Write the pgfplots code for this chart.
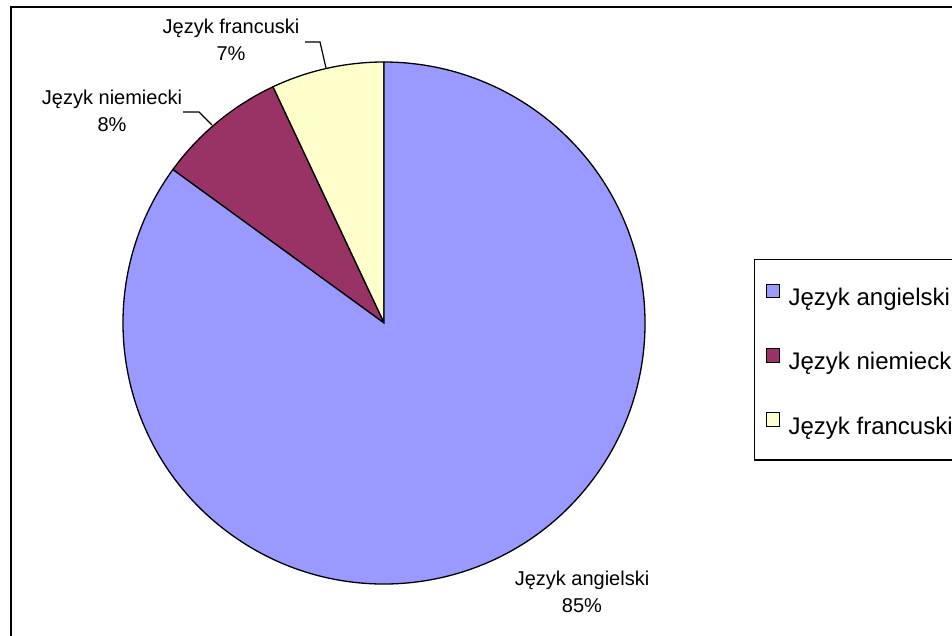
\documentclass[border=0pt]{standalone}
\usepackage{pgfplots}
\pgfplotsset{compat=1.18}
\usepackage{pgfplotstable}
\usepackage{fontspec}
\setmainfont{Liberation Sans}
\definecolor{cAng}{HTML}{9999FF}
\definecolor{cNie}{HTML}{993366}
\definecolor{cFra}{HTML}{FFFFCC}
\pgfplotstableread{
label value
angielski 85
niemiecki 8
francuski 7
}\piedata
\begin{document}
\begin{tikzpicture}
\useasboundingbox (0,0) rectangle (952pt,635pt);
\pgfplotstablegetelem{0}{value}\of\piedata \pgfmathsetmacro{\vA}{\pgfplotsretval}
\pgfplotstablegetelem{1}{value}\of\piedata \pgfmathsetmacro{\vN}{\pgfplotsretval}
\pgfplotstablegetelem{2}{value}\of\piedata \pgfmathsetmacro{\vF}{\pgfplotsretval}
\pgfmathsetmacro{\aF}{90+3.6*\vF}
\pgfmathsetmacro{\aN}{\aF+3.6*\vN}
\pgfmathsetmacro{\aA}{\aN+3.6*\vA}
\begin{axis}[
  at={(0,0)}, anchor=south west,
  scale only axis, width=952pt, height=635pt,
  xmin=0, xmax=952, ymin=0, ymax=635,
  axis lines=none, clip=false,
  legend style={at={(axis cs:754,376)}, anchor=north west,
    draw=black, line width=1.2pt, fill=white,
    inner xsep=11pt, inner ysep=24pt,
    row sep=41pt, column sep=9pt,
    font=\fontsize{24}{28}\selectfont,
    nodes={inner sep=0pt},
    cells={anchor=west}},
]
% outer chart border
\draw[line width=2pt] (axis cs:11,-20) -- (axis cs:11,628) -- (axis cs:980,628);
% pie slices
\filldraw[fill=cFra, draw=black, line width=1.3pt] (axis cs:384,312) -- ++(90:261pt) arc[start angle=90, end angle=\aF, radius=261pt] -- cycle;
\filldraw[fill=cNie, draw=black, line width=1.3pt] (axis cs:384,312) -- ++(\aF:261pt) arc[start angle=\aF, end angle=\aN, radius=261pt] -- cycle;
\filldraw[fill=cAng, draw=black, line width=1.3pt] (axis cs:384,312) -- ++(\aN:261pt) arc[start angle=\aN, end angle=\aA, radius=261pt] -- cycle;
% leader lines
\draw[line width=1.2pt] (axis cs:305,593) -- (axis cs:320,593) -- (axis cs:326,567);
\draw[line width=1.2pt] (axis cs:183,523) -- (axis cs:199,523) -- (axis cs:212,510);
% data labels
\node[align=center, font=\fontsize{20}{27}\selectfont] at (axis cs:231,595.5) {Język francuski\\7\%};
\node[align=center, font=\fontsize{20}{27}\selectfont] at (axis cs:112,524.5) {Język niemiecki\\8\%};
\node[align=center, font=\fontsize{20}{27}\selectfont] at (axis cs:582,43) {Język angielski\\85\%};
% legend
\addlegendimage{legend image code/.code={\draw[fill=cAng,draw=black,line width=1pt] (0pt,0pt) rectangle (13pt,13.5pt);}}
\addlegendentry{Język angielski}
\addlegendimage{legend image code/.code={\draw[fill=cNie,draw=black,line width=1pt] (0pt,0pt) rectangle (13pt,13.5pt);}}
\addlegendentry{Język niemiecki}
\addlegendimage{legend image code/.code={\draw[fill=cFra,draw=black,line width=1pt] (0pt,0pt) rectangle (13pt,13.5pt);}}
\addlegendentry{Język francuski}
\end{axis}
\end{tikzpicture}
\end{document}
